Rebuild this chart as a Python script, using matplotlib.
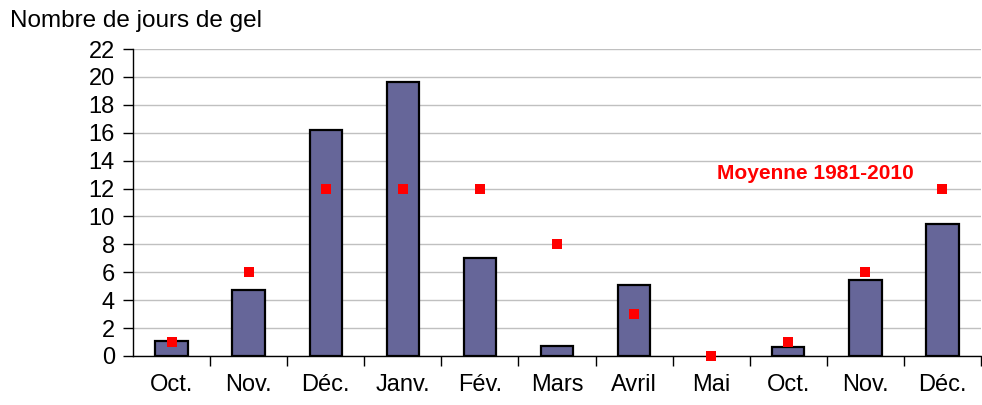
import matplotlib
matplotlib.use("Agg")
import matplotlib.pyplot as plt
import numpy as np

plt.rcParams['font.family'] = ['Liberation Sans', 'DejaVu Sans']

categories = ["Oct.", "Nov.", "Déc.", "Janv.", "Fév.", "Mars", "Avril", "Mai", "Oct.", "Nov.", "Déc."]
frost_days = [1.1, 4.7, 16.2, 19.6, 7.0, 0.7, 5.1, 0.0, 0.65, 5.45, 9.45]
normal_1981_2010 = [1, 6, 12, 12, 12, 8, 3, 0, 1, 6, 12]
yticks = list(range(0, 23, 2))

fig = plt.figure(figsize=(9.82, 4.05), dpi=100)
ax = fig.add_axes([133/982, 1-356/405, 1-133/982 - 0.001, 307/405])

x = np.arange(len(categories))
lws = [1.6 if v > 0 else 0 for v in frost_days]
ax.bar(x, frost_days, width=0.42, color="#666699", edgecolor="black", linewidth=lws, zorder=3)
ax.plot(x, normal_1981_2010, linestyle="none", marker="s", markersize=7, color="#ff0000",
        markeredgewidth=0, zorder=4, clip_on=False)

ax.set_xlim(-0.5, len(categories) - 0.5)
ax.set_ylim(0, 22)
ax.set_yticks(yticks)
ax.set_yticklabels([str(v) for v in yticks], fontsize=17)
ax.set_xticks(x)
ax.set_xticklabels(categories, fontsize=17)
ax.set_xticks(np.arange(len(categories)) + 0.5, minor=True)
ax.tick_params(axis="x", which="major", length=0, pad=13)
ax.tick_params(axis="x", which="minor", length=7, width=1, color="black", direction="out")
ax.tick_params(axis="y", which="major", length=7, width=1, color="black", direction="out", pad=6)

ax.grid(axis="y", color="#c0c0c0", linewidth=1, zorder=0)
ax.set_axisbelow(True)
for s in ["top", "right"]:
    ax.spines[s].set_visible(False)
ax.spines["left"].set_color("black")
ax.spines["bottom"].set_color("black")
ax.spines["left"].set_linewidth(1)
ax.spines["bottom"].set_linewidth(1)

ax.text(8.35, 13.1, "Moyenne 1981-2010", color="#ff0000", fontsize=15, fontweight="bold",
        ha="center", va="center")

fig.text(10/982, 1-21/405, "Nombre de jours de gel", fontsize=17.5, ha="left", va="center")

fig.savefig("out.png", dpi=100)
